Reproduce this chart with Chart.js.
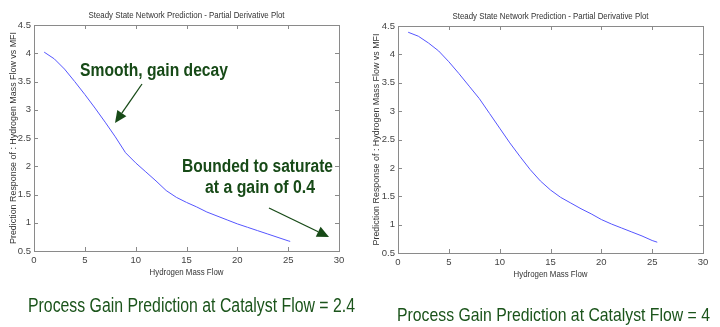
<!DOCTYPE html>
<html>
<head>
<meta charset="utf-8">
<script src="https://cdn.jsdelivr.net/npm/chart.js@4"></script>
<style>
  html, body { margin:0; padding:0; background:#fff; }
  #wrap { position:relative; width:720px; height:327px; overflow:hidden; }
  canvas { position:absolute; top:0; }
</style>
</head>
<body>
<div id="wrap">
  <canvas id="left" width="360" height="327" style="left:0"></canvas>
  <canvas id="right" width="360" height="327" style="left:360px"></canvas>
</div>
<script>
/* ---- data ---- */
const X_TICKS = [0, 5, 10, 15, 20, 25, 30];
const Y_TICKS = [0.5, 1, 1.5, 2, 2.5, 3, 3.5, 4, 4.5];

// catalyst flow = 2.4
const leftFlow = [1, 2, 3, 4, 5, 6, 7, 8, 9, 10, 11, 12, 13, 14, 15, 16, 17, 18, 19, 20, 21, 22, 23, 24, 25, 25.2];
const leftGain = [4.02, 3.90, 3.72, 3.50, 3.27, 3.03, 2.78, 2.52, 2.24, 2.06, 1.90, 1.74, 1.57, 1.45, 1.36, 1.28, 1.19, 1.12, 1.05, 0.98, 0.92, 0.86, 0.80, 0.74, 0.68, 0.67];

// catalyst flow = 4
const rightFlow = [1, 2, 3, 4, 5, 6, 7, 8, 9, 10, 11, 12, 13, 14, 15, 16, 17, 18, 19, 20, 21, 22, 23, 24, 25, 25.5];
const rightGain = [4.39, 4.32, 4.20, 4.06, 3.87, 3.66, 3.44, 3.22, 2.96, 2.70, 2.44, 2.20, 1.97, 1.77, 1.61, 1.48, 1.38, 1.28, 1.19, 1.09, 1.01, 0.94, 0.87, 0.80, 0.72, 0.69];

const TITLE = 'Steady State Network Prediction - Partial Derivative Plot';
const X_TITLE = 'Hydrogen Mass Flow';
const Y_TITLE = 'Prediction Response of : Hydrogen Mass Flow vs MFI';
const CAPTIONS = ['Process Gain Prediction at Catalyst Flow = 2.4', 'Process Gain Prediction at Catalyst Flow = 4'];
const NOTES = ['Smooth, gain decay', 'Bounded to saturate', 'at a gain of 0.4'];

const GREEN = '#174a17';
const AXIS = '#8a8a8a';
const FONT = '"Liberation Sans", Arial, sans-serif';

// draw text squeezed to a target width (original uses a narrow face)
function fitText(ctx, text, x, y, font, color, width, align) {
  ctx.save();
  ctx.font = font; ctx.fillStyle = color; ctx.textBaseline = 'alphabetic'; ctx.textAlign = 'left';
  const w = ctx.measureText(text).width;
  const sx = width / w;
  const x0 = align === 'center' ? x - width / 2 : x;
  ctx.translate(x0, y); ctx.scale(sx, 1);
  ctx.fillText(text, 0, 0);
  ctx.restore();
}

function arrow(ctx, x1, y1, x2, y2) {
  const a = Math.atan2(y2 - y1, x2 - x1), L = 12, H = 5.5;
  ctx.save();
  ctx.strokeStyle = GREEN; ctx.fillStyle = GREEN; ctx.lineWidth = 1.3;
  ctx.beginPath(); ctx.moveTo(x1, y1); ctx.lineTo(x2 - L * Math.cos(a), y2 - L * Math.sin(a)); ctx.stroke();
  ctx.beginPath();
  ctx.moveTo(x2, y2);
  ctx.lineTo(x2 - L * Math.cos(a) + H * Math.sin(a), y2 - L * Math.sin(a) - H * Math.cos(a));
  ctx.lineTo(x2 - L * Math.cos(a) - H * Math.sin(a), y2 - L * Math.sin(a) + H * Math.cos(a));
  ctx.closePath(); ctx.fill();
  ctx.restore();
}

// MATLAB-ish frame: box plus inward ticks on all four sides, titles, captions
const matlabFrame = {
  id: 'matlabFrame',
  afterDraw(chart, args, o) {
    const ctx = chart.ctx, { left, right, top, bottom } = chart.chartArea;
    const xs = chart.scales.x, ys = chart.scales.y;
    ctx.save();
    ctx.strokeStyle = AXIS; ctx.lineWidth = 1;
    ctx.strokeRect(Math.round(left) + 0.5, Math.round(top) + 0.5, Math.round(right - left), Math.round(bottom - top));
    ctx.beginPath();
    X_TICKS.forEach((v) => {
      const px = Math.round(xs.getPixelForValue(v)) + 0.5;
      ctx.moveTo(px, bottom); ctx.lineTo(px, bottom - 4);
      ctx.moveTo(px, top); ctx.lineTo(px, top + 4);
    });
    Y_TICKS.forEach((v) => {
      const py = Math.round(ys.getPixelForValue(v)) + 0.5;
      ctx.moveTo(left, py); ctx.lineTo(left + 4, py);
      ctx.moveTo(right, py); ctx.lineTo(right - 4, py);
    });
    ctx.stroke();
    ctx.restore();

    const cx = (left + right) / 2, cy = (top + bottom) / 2;
    fitText(ctx, TITLE, cx, top - 7, '9px ' + FONT, '#333', 196, 'center');
    fitText(ctx, X_TITLE, cx, bottom + 24, '9px ' + FONT, '#333', 74, 'center');
    ctx.save();
    ctx.translate(o.yTitleX, cy); ctx.rotate(-Math.PI / 2);
    fitText(ctx, Y_TITLE, 0, 0, '9px ' + FONT, '#333', 212, 'center');
    ctx.restore();

    const c = o.caption;
    fitText(ctx, c.text, c.x, c.y, c.size + 'px ' + FONT, '#1b541b', c.w, 'left');

    (o.notes || []).forEach((n) => fitText(ctx, n.text, n.x, n.y, 'bold 18px ' + FONT, GREEN, n.w, 'left'));
    (o.arrows || []).forEach((a) => arrow(ctx, a[0], a[1], a[2], a[3]));
  }
};

function makeChart(id, flow, gain, pad, frame) {
  const pts = flow.map((x, i) => ({ x, y: gain[i] }));
  return new Chart(document.getElementById(id), {
    type: 'line',
    data: { datasets: [{ data: pts, borderColor: '#5555ff', borderWidth: 1, pointRadius: 0, fill: false, tension: 0 }] },
    options: {
      responsive: false, animation: false, devicePixelRatio: 1,
      layout: { padding: { left: 0, right: pad.right, top: pad.top, bottom: 0 } },
      plugins: { legend: { display: false }, tooltip: { enabled: false }, matlabFrame: frame },
      scales: {
        x: {
          type: 'linear', min: 0, max: 30,
          afterFit: (s) => { s.height = 327 - pad.bottom; },
          afterBuildTicks: (s) => { s.ticks = X_TICKS.map((v) => ({ value: v })); },
          grid: { display: false, drawTicks: false }, border: { display: false },
          ticks: { padding: 4, color: '#444', font: { size: 9.5, family: FONT }, maxRotation: 0, callback: (v) => String(v) }
        },
        y: {
          type: 'linear', min: 0.5, max: 4.5,
          afterFit: (s) => { s.width = pad.left; },
          afterBuildTicks: (s) => { s.ticks = Y_TICKS.map((v) => ({ value: v })); },
          grid: { display: false, drawTicks: false }, border: { display: false },
          ticks: { padding: 3, color: '#444', font: { size: 9.5, family: FONT }, callback: (v) => String(v) }
        }
      }
    },
    plugins: [matlabFrame]
  });
}

makeChart('left', leftFlow, leftGain, { left: 34, right: 21, top: 25, bottom: 251 }, {
  yTitleX: 16,
  caption: { text: CAPTIONS[0], x: 28, y: 312, size: 20, w: 327 },
  notes: [
    { text: NOTES[0], x: 80, y: 76, w: 148 },
    { text: NOTES[1], x: 182, y: 172, w: 151 },
    { text: NOTES[2], x: 205, y: 193, w: 110 }
  ],
  arrows: [[142, 84, 115, 123], [269, 208, 329, 237]]
});

makeChart('right', rightFlow, rightGain, { left: 38, right: 17, top: 26, bottom: 253 }, {
  yTitleX: 19,
  caption: { text: CAPTIONS[1], x: 37, y: 321, size: 19, w: 313 }
});
</script>
</body>
</html>
